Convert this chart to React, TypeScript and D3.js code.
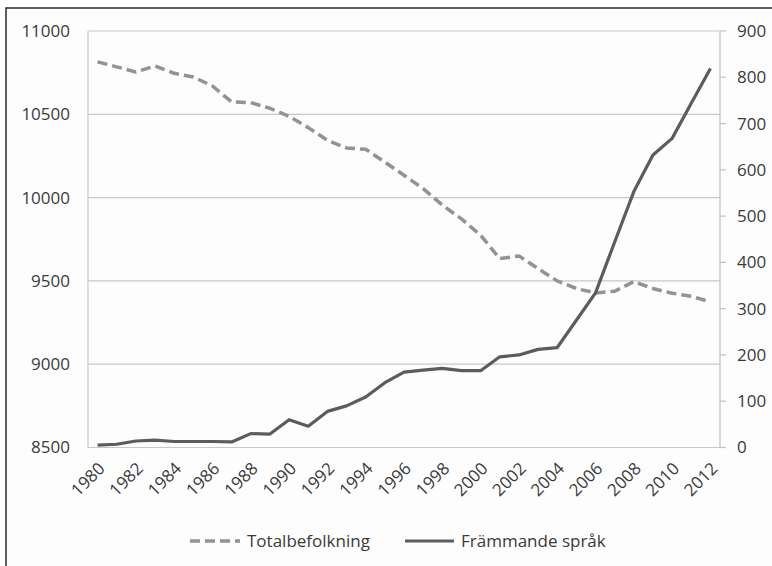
import React from "react";
import * as d3 from "d3";

const years: number[] = d3.range(1980, 2013);
const totalbefolkning: number[] = [
  10815, 10785, 10754, 10790, 10746, 10724, 10670, 10574, 10570, 10536,
  10488, 10420, 10344, 10298, 10290, 10213, 10134, 10054, 9955, 9872,
  9774, 9634, 9650, 9574, 9500, 9454, 9428, 9438, 9496, 9454,
  9426, 9408, 9374,
];
const frammandeSprak: number[] = [
  5, 7, 14, 16, 13, 13, 13, 12, 30, 29,
  60, 46, 78, 90, 109, 140, 163, 167, 171, 166,
  166, 196, 200, 212, 216, 275, 334, 444, 553, 632,
  668, 744, 819,
];
const leftTicks: number[] = [8500, 9000, 9500, 10000, 10500, 11000];
const rightTicks: number[] = [0, 100, 200, 300, 400, 500, 600, 700, 800, 900];
const labelYears: number[] = d3.range(1980, 2013, 2);
const seriesNames: string[] = ["Totalbefolkning", "Främmande språk"];

const W = 772;
const H = 566;
const L = 88;
const R = 720;
const T = 31;
const B = 447.5;
const FONT = "'Open Sans', 'Noto Sans', sans-serif";
const TEXT = "#3a3a3a";

export default function App() {
  const x = d3.scalePoint<number>().domain(years).range([L, R]).padding(0.5);
  const yL = d3.scaleLinear().domain([8500, 11000]).range([B, T]);
  const yR = d3.scaleLinear().domain([0, 900]).range([B, T]);

  const lineL = d3
    .line<number>()
    .x((_, i) => x(years[i]) as number)
    .y((d) => yL(d));
  const lineR = d3
    .line<number>()
    .x((_, i) => x(years[i]) as number)
    .y((d) => yR(d));

  return (
    <svg
      width={W}
      height={H}
      style={{ position: "absolute", left: 0, top: 0, background: "#fff" }}
      fontFamily={FONT}
    >
      <rect x={0} y={0} width={W} height={H} fill="#fff" />
      <rect x={6} y={8} width={W + 20} height={H + 20} fill="#fdfdfd" stroke="#2a2a2a" strokeWidth={1.5} />
      {/* grid */}
      {leftTicks.map((t) => (
        <line key={"g" + t} x1={L} x2={R} y1={yL(t)} y2={yL(t)} stroke="#c8c8c8" strokeWidth={1.2} />
      ))}
      {/* left axis */}
      <line x1={L} x2={L} y1={T} y2={B} stroke="#c8c8c8" strokeWidth={1.2} />
      {/* right axis */}
      <line x1={R} x2={R} y1={T} y2={B} stroke="#c0c0c0" strokeWidth={1.2} />
      {rightTicks.map((t) => (
        <line key={"rt" + t} x1={R} x2={R + 6} y1={yR(t)} y2={yR(t)} stroke="#c0c0c0" strokeWidth={1.2} />
      ))}
      {leftTicks.map((t) => (
        <text key={"lt" + t} x={70} y={yL(t)} dy="0.35em" textAnchor="end" fontSize={17} fill={TEXT}>
          {t}
        </text>
      ))}
      {rightTicks.map((t) => (
        <text key={"rl" + t} x={737} y={yR(t)} dy="0.35em" textAnchor="start" fontSize={17} fill={TEXT}>
          {t}
        </text>
      ))}
      {labelYears.map((yr) => (
        <text
          key={"x" + yr}
          transform={`translate(${(x(yr) as number) + 4},${B + 18}) rotate(-45)`}
          textAnchor="end"
          dy="0.35em"
          fontSize={17}
          fill={TEXT}
        >
          {yr}
        </text>
      ))}
      {/* series */}
      <path
        d={lineL(totalbefolkning) || ""}
        fill="none"
        stroke="#939393"
        strokeWidth={3.5}
        strokeDasharray="10,5"
        strokeLinejoin="round"
      />
      <path
        d={lineR(frammandeSprak) || ""}
        fill="none"
        stroke="#5c5c5c"
        strokeWidth={3.2}
        strokeLinejoin="round"
      />
      {/* legend */}
      <line x1={190} x2={240} y1={541} y2={541} stroke="#939393" strokeWidth={3.5} strokeDasharray="10,5" />
      <text x={247} y={541} dy="0.35em" fontSize={17} fill={TEXT}>
        {seriesNames[0]}
      </text>
      <line x1={405} x2={454} y1={541} y2={541} stroke="#5c5c5c" strokeWidth={3.2} />
      <text x={461} y={541} dy="0.35em" fontSize={17} fill={TEXT}>
        {seriesNames[1]}
      </text>
    </svg>
  );
}
